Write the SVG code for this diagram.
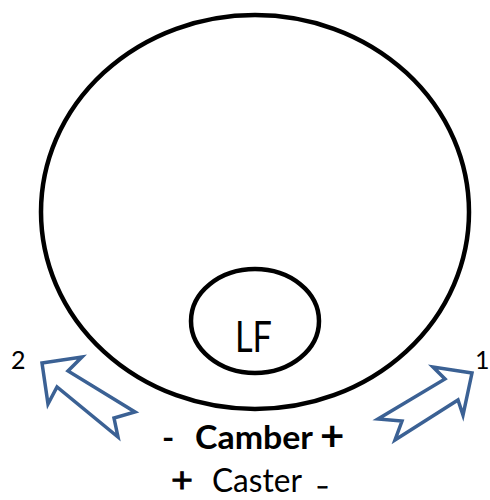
<svg xmlns="http://www.w3.org/2000/svg" width="490" height="500" viewBox="0 0 490 500">
<style>
.ring{fill:none;stroke:#000;stroke-width:4.5}
.arr{fill:#fff;stroke:#3B6194;stroke-width:3.5;stroke-linejoin:miter}
.t{font-family:Lato,"Open Sans",sans-serif;fill:#000}
.b{font-weight:bold}
.s{stroke:#000;stroke-width:0.8}
</style>
<rect width="490" height="500" fill="#fff"/>
<g id="tire">
<ellipse class="ring" cx="255" cy="212" rx="214" ry="197"/>
</g>
<g id="lf">
<ellipse class="ring" cx="255" cy="321" rx="64" ry="52"/>
<text class="t" x="235" y="352" font-size="42" textLength="37" lengthAdjust="spacingAndGlyphs">LF</text>
</g>
<g id="connectors">
<polygon id="arrow2" class="arr" points="42,363 82,357 68,371 135,412 114,418 118,437 57,387 48,404"/>
<polygon id="arrow1" class="arr" points="472,373 463,415 458,400 395,440 402,421 378,419 445,379 433,367"/>
</g>
<g id="labels">
<text class="t" x="11" y="369" font-size="25">2</text>
<text class="t" x="475" y="369" font-size="25">1</text>
<text class="t b" x="162" y="449" font-size="33">-</text>
<text class="t b" x="195" y="449" font-size="33" textLength="118" lengthAdjust="spacingAndGlyphs">Camber</text>
<text class="t b" x="320" y="451" font-size="42">+</text>
<text class="t s" x="171" y="492" font-size="34" textLength="22" lengthAdjust="spacingAndGlyphs">+</text>
<text class="t" x="212" y="492" font-size="33" textLength="90" lengthAdjust="spacingAndGlyphs">Caster</text>
<text class="t s" x="316" y="494" font-size="22" textLength="13" lengthAdjust="spacingAndGlyphs">-</text>
</g>
</svg>
